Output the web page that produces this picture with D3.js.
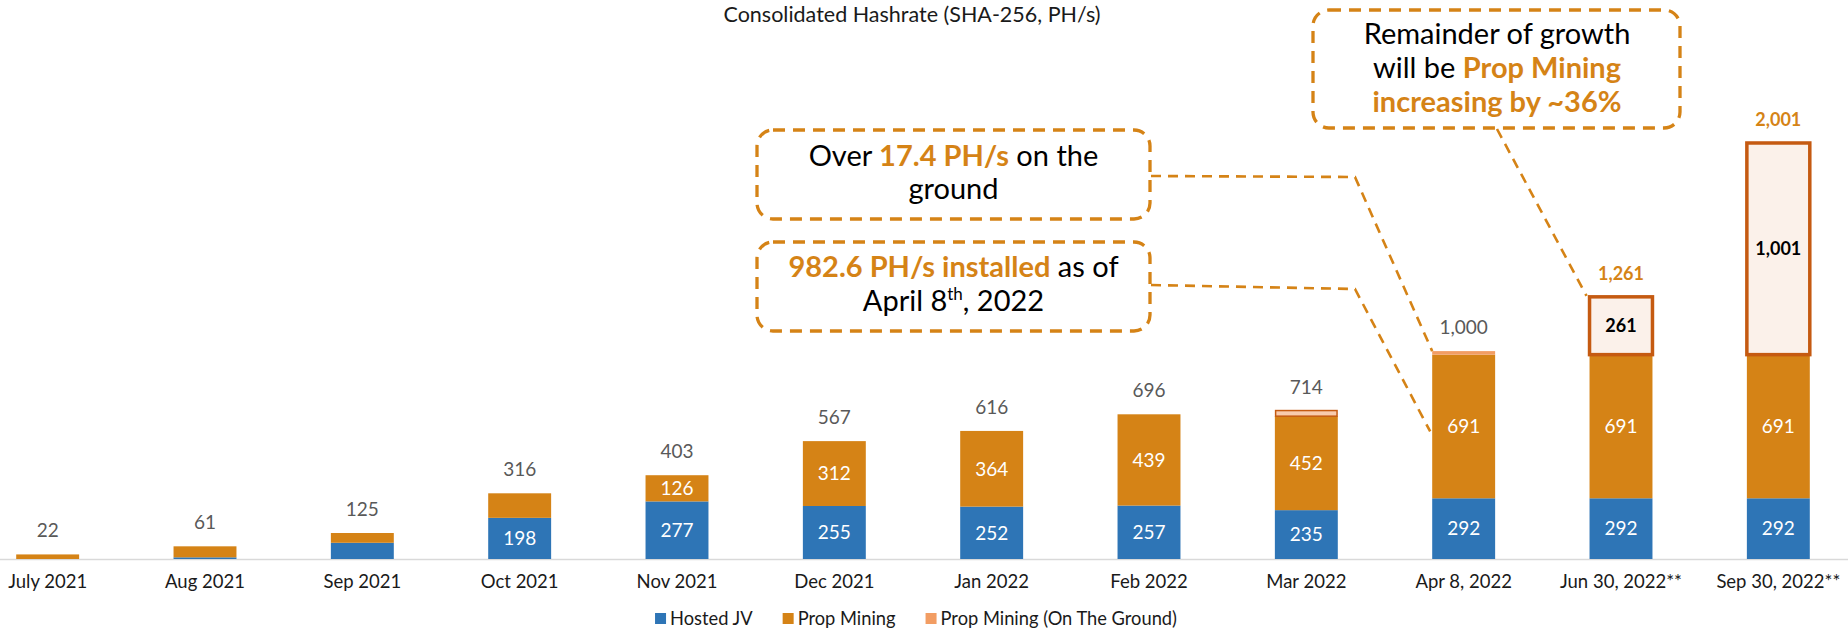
<!DOCTYPE html>
<html>
<head>
<meta charset="utf-8">
<script src="https://cdn.jsdelivr.net/npm/d3@7"></script>
<style>
  html, body { margin: 0; padding: 0; background: #fff; }
  svg { display: block; font-family: Lato, "Open Sans", sans-serif; }
</style>
</head>
<body>
<svg id="chart" width="1848" height="632"></svg>
<script>
// ---------- data ----------
const categories = ["July 2021", "Aug 2021", "Sep 2021", "Oct 2021", "Nov 2021", "Dec 2021",
  "Jan 2022", "Feb 2022", "Mar 2022", "Apr 8, 2022", "Jun 30, 2022**", "Sep 30, 2022**"];
const hostedJV    = [0, 8, 78, 198, 277, 255, 252, 257, 235, 292, 292, 292];
const propMining  = [22, 53, 47, 118, 126, 312, 364, 439, 452, 691, 691, 691];
const onTheGround = [0, 0, 0, 0, 0, 0, 0, 0, 27, 17, 17, 17];
const projected   = [0, 0, 0, 0, 0, 0, 0, 0, 0, 0, 261, 1001];
const totals      = [22, 61, 125, 316, 403, 567, 616, 696, 714, 1000, 1261, 2001];
const seriesNames = ["Hosted JV", "Prop Mining", "Prop Mining (On The Ground)"];
const title = "Consolidated Hashrate (SHA-256, PH/s)";

// ---------- style ----------
const C = {
  blue: "#2E75B6", orange: "#D58316", ground: "#F29D63", groundMar: "#F8CBAD",
  dark: "#C55A11", boxFill: "#FBF1EA", grey: "#595959", text: "#1a1a1a", axis: "#D9D9D9"
};

const svg = d3.select("#chart");
const x = d3.scaleBand().domain(categories).range([-31, 1857]).paddingInner(0.6).paddingOuter(0.3);
const y = d3.scaleLinear().domain([0, 2000]).range([559, 143.2]);
const fmt = d3.format(",");

// title
svg.append("text").attr("x", 912).attr("y", 22).attr("text-anchor", "middle")
  .attr("font-size", 21.5).attr("fill", C.text).text(title);

// baseline
svg.append("line").attr("x1", 0).attr("x2", 1848).attr("y1", y(0) + 0.5).attr("y2", y(0) + 0.5)
  .attr("stroke", C.axis).attr("stroke-width", 1.5);

const rows = categories.map((c, i) => ({
  c, h: hostedJV[i], p: propMining[i], g: onTheGround[i], f: projected[i], t: totals[i]
}));

const bw = x.bandwidth();
const bars = svg.append("g");

// hosted JV
bars.selectAll(".h").data(rows.filter(d => d.h > 0)).join("rect")
  .attr("x", d => x(d.c)).attr("width", bw)
  .attr("y", d => y(d.h)).attr("height", d => y(0) - y(d.h)).attr("fill", C.blue);
// prop mining
bars.selectAll(".p").data(rows.filter(d => d.p > 0)).join("rect")
  .attr("x", d => x(d.c)).attr("width", bw)
  .attr("y", d => y(d.h + d.p)).attr("height", d => y(d.h) - y(d.h + d.p)).attr("fill", C.orange);
// on the ground (only where no projected box)
bars.selectAll(".g").data(rows.filter(d => d.g > 0 && d.f === 0)).join("rect")
  .attr("x", d => x(d.c) + (d.c === "Mar 2022" ? 0.75 : 0)).attr("width", d => bw - (d.c === "Mar 2022" ? 1.5 : 0))
  .attr("y", d => y(d.h + d.p + d.g)).attr("height", d => y(d.h + d.p) - y(d.h + d.p + d.g))
  .attr("fill", d => d.c === "Mar 2022" ? C.groundMar : C.ground)
  .attr("stroke", d => d.c === "Mar 2022" ? C.dark : "none").attr("stroke-width", 1.5);
// projected boxes (cover on-the-ground + projected)
bars.selectAll(".f").data(rows.filter(d => d.f > 0)).join("rect")
  .attr("x", d => x(d.c)).attr("width", bw)
  .attr("y", d => y(d.t)).attr("height", d => y(d.h + d.p) - y(d.t))
  .attr("fill", C.boxFill).attr("stroke", C.dark).attr("stroke-width", 3.5);

// inner labels
const lab = svg.append("g").attr("text-anchor", "middle").attr("font-size", 19);
lab.selectAll(".lh").data(rows.filter(d => d.h >= 120)).join("text")
  .attr("x", d => x(d.c) + bw / 2).attr("y", d => y(d.h / 2)).attr("dy", "0.36em")
  .attr("fill", "#fff").text(d => fmt(d.h));
lab.selectAll(".lp").data(rows.filter(d => d.p >= 120)).join("text")
  .attr("x", d => x(d.c) + bw / 2).attr("y", d => y(d.h + d.p / 2)).attr("dy", "0.36em")
  .attr("fill", "#fff").text(d => fmt(d.p));
lab.selectAll(".lf").data(rows.filter(d => d.f > 0)).join("text")
  .attr("x", d => x(d.c) + bw / 2).attr("y", d => y(d.h + d.p + (d.g + d.f) / 2)).attr("dy", "0.36em")
  .attr("fill", "#000").attr("font-weight", 700).attr("font-size", 18).text(d => fmt(d.f));
// totals
lab.selectAll(".lt").data(rows).join("text")
  .attr("x", d => x(d.c) + bw / 2).attr("y", d => y(d.t) - 17)
  .attr("fill", d => d.f > 0 ? C.orange : C.grey)
  .attr("font-weight", d => d.f > 0 ? 700 : 400)
  .attr("font-size", d => d.f > 0 ? 18 : 19)
  .text(d => fmt(d.t));

// x axis labels
svg.append("g").selectAll("text").data(categories).join("text")
  .attr("x", d => x(d) + bw / 2).attr("y", 588).attr("text-anchor", "middle")
  .attr("font-size", 18.5).attr("fill", C.text).text(d => d);

// legend
const legColors = [C.blue, C.orange, C.ground];
const leg = svg.append("g");
let lx = 0;
seriesNames.forEach((n, i) => {
  const g = leg.append("g").attr("transform", `translate(${lx},0)`);
  g.append("rect").attr("x", 0).attr("y", 613).attr("width", 11).attr("height", 11).attr("fill", legColors[i]);
  const t = g.append("text").attr("x", 15).attr("y", 625).attr("font-size", 18.3).attr("fill", C.text).text(n);
  lx += 15 + t.node().getComputedTextLength() + 30;
});
const legW = lx - 30;
leg.attr("transform", `translate(${916 - legW / 2},0)`);

// ---------- callouts ----------
const ann = svg.append("g");
const dash = "12,8";
function box(x0, y0, w, h) {
  ann.append("rect").attr("x", x0).attr("y", y0).attr("width", w).attr("height", h)
    .attr("rx", 16).attr("fill", "#fff").attr("stroke", C.orange).attr("stroke-width", 3.3)
    .attr("stroke-dasharray", dash);
}
function line(parts, cx, yy) {
  const t = ann.append("text").attr("x", cx).attr("y", yy).attr("text-anchor", "middle")
    .attr("font-size", 29).attr("fill", "#000");
  parts.forEach(p => {
    const s = t.append("tspan").text(p.t);
    if (p.o) s.attr("fill", C.orange).attr("font-weight", 700);
    if (p.sup) s.attr("font-size", 17).attr("dy", -11);
    if (p.after) s.attr("dy", 11);
  });
}
function connector(pts) {
  ann.append("path").attr("d", d3.line()(pts)).attr("fill", "none")
    .attr("stroke", C.orange).attr("stroke-width", 2.6).attr("stroke-dasharray", "10,7");
}

const xApr = x("Apr 8, 2022"), xJun = x("Jun 30, 2022**");
connector([[1151, 176], [1355, 177], [xApr, y(1000)]]);
connector([[1151, 285], [1355, 289], [xApr - 2, y(292 + 691 / 2) + 5]]);
connector([[1497, 129], [xJun - 3, y(1261) - 1]]);

box(757, 130, 393, 89);
line([{t: "Over "}, {t: "17.4 PH/s", o: true}, {t: " on the"}], 953.5, 166);
line([{t: "ground"}], 953.5, 199);

box(757, 242, 393, 89);
line([{t: "982.6 PH/s installed", o: true}, {t: " as of"}], 953.5, 277);
line([{t: "April 8"}, {t: "th", sup: true}, {t: ", 2022", after: true}], 953.5, 311);

box(1313, 10, 367, 118);
line([{t: "Remainder of growth"}], 1497, 44);
line([{t: "will be "}, {t: "Prop Mining", o: true}], 1497, 78);
line([{t: "increasing by ~36%", o: true}], 1497, 112);
</script>
</body>
</html>
